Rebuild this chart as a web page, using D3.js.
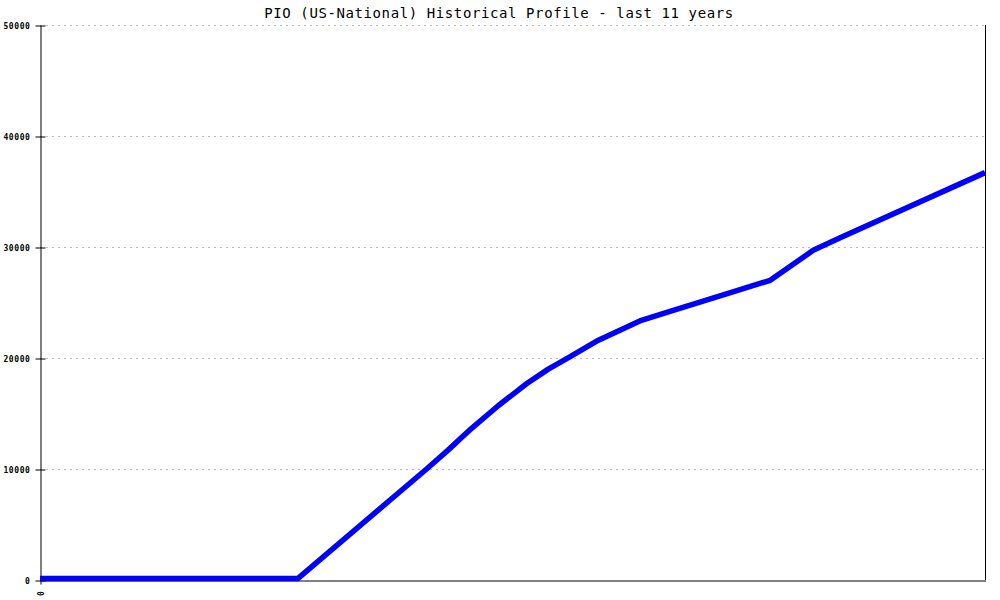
<!DOCTYPE html>
<html><head><meta charset="utf-8">
<script src="https://cdn.jsdelivr.net/npm/d3@7"></script>
<style>body{margin:0;background:#fff}svg{display:block}</style>
</head><body>
<svg id="c" width="1000" height="600"></svg>
<script>
const months = [0, 36, 54, 57, 59, 60, 64, 68, 71, 74, 78, 84, 88, 96, 102, 108, 112, 132];
const values = [130, 130, 10000, 11700, 12900, 13500, 15700, 17700, 19000, 20100, 21600, 23400, 24200, 25800, 27000, 29700, 30900, 36700];
const yTicks = [0, 10000, 20000, 30000, 40000, 50000];
const xTickLabels = ["0"];
const title = "PIO (US-National) Historical Profile - last 11 years";

const svg = d3.select("#c");
const L = 40, R = 985, T = 25, B = 580;
const x = d3.scaleLinear().domain([0, 132]).range([L, R]);
const y = d3.scaleLinear().domain([0, 50000]).range([B, T]);

// grid
svg.append("g").selectAll("line").data(yTicks.filter(d => d > 0)).join("line")
  .attr("x1", L).attr("x2", R).attr("y1", d => y(d) + 0.5).attr("y2", d => y(d) + 0.5)
  .attr("stroke", "#bbb").attr("stroke-dasharray", "2,4");

// right border
svg.append("line").attr("x1", R + 0.5).attr("x2", R + 0.5).attr("y1", T).attr("y2", B)
  .attr("stroke", "#000");

// y axis
const ya = svg.append("g").attr("transform", `translate(${L + 0.5},0.5)`)
  .call(d3.axisLeft(y).tickValues(yTicks).tickSizeInner(5).tickSizeOuter(0).tickPadding(5).tickFormat(d3.format("d")));
ya.select(".domain").attr("stroke", "#000");
ya.selectAll(".tick line").attr("x1", -5).attr("x2", 5).attr("stroke", "#000");
ya.selectAll("text").attr("font-family", "DejaVu Sans Mono, monospace").attr("font-size", 8)
  .attr("font-weight", "bold").attr("letter-spacing", "0.6px").attr("fill", "#000");

// x axis
const xa = svg.append("g").attr("transform", `translate(0.5,${B + 0.5})`)
  .call(d3.axisBottom(x).tickValues([0]).tickSize(4).tickSizeOuter(0).tickFormat((d, i) => xTickLabels[i]));
xa.select(".domain").attr("stroke", "#000");
xa.selectAll(".tick line").attr("stroke", "#000");
xa.selectAll("text").attr("font-family", "DejaVu Sans Mono, monospace").attr("font-size", 8)
  .attr("font-weight", "bold").attr("fill", "#000")
  .attr("transform", "translate(0,13) rotate(-90)").attr("dy", "0.35em").attr("y", 0).attr("text-anchor", "middle");

// line
const data = months.map((m, i) => ({ m, v: values[i] }));
svg.append("path").datum(data)
  .attr("d", d3.line().x(d => x(d.m)).y(d => y(d.v)))
  .attr("fill", "none").attr("stroke", "#0000ff").attr("stroke-width", 5.5)
  .attr("stroke-linejoin", "round");

// title
svg.append("text").attr("x", 499).attr("y", 18).attr("text-anchor", "middle")
  .attr("font-family", "DejaVu Sans Mono, monospace").attr("font-size", 14)
  .attr("letter-spacing", "0.6px").attr("fill", "#000").text(title);
</script>
</body></html>
